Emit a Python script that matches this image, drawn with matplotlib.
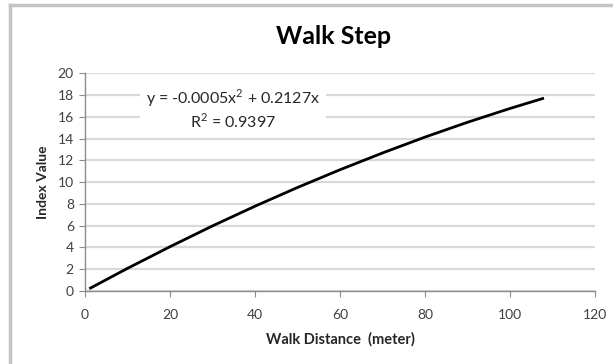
import matplotlib
matplotlib.use("Agg")
import matplotlib.pyplot as plt
from matplotlib.lines import Line2D

# Walk distance (m) and index value along the fitted curve
distance = [1, 10, 20, 30, 40, 50, 60, 70, 80, 90, 100, 108]
index_value = [0.21, 2.08, 4.07, 5.98, 7.79, 9.51, 11.14, 12.68, 14.14, 15.50, 16.77, 17.72]

x_ticks = [0, 20, 40, 60, 80, 100, 120]
y_ticks = [0, 2, 4, 6, 8, 10, 12, 14, 16, 18, 20]

title = "Walk Step"
x_label = "Walk Distance  (meter)"
y_label = "Index Value"
equation = "y = -0.0005x$^{2}$ + 0.2127x"
r_squared = "R$^{2}$ = 0.9397"

plt.rcParams["font.family"] = ["Lato", "DejaVu Sans"]
plt.rcParams["mathtext.fontset"] = "custom"
plt.rcParams["mathtext.rm"] = "Lato"

fig = plt.figure(figsize=(6.13, 3.64), dpi=100)
ax = fig.add_axes([85 / 613, 1 - 291 / 364, (595 - 85) / 613, (291 - 73.3) / 364])

ax.plot(distance, index_value, color="black", lw=2.0, solid_capstyle="butt", zorder=3)

ax.set_xlim(0, 120)
ax.set_ylim(0, 20)
ax.set_xticks(x_ticks)
ax.set_yticks(y_ticks)
ax.grid(axis="y", color="#d9d9d9", lw=1.6)
ax.set_axisbelow(True)

for s in ("top", "right"):
    ax.spines[s].set_visible(False)
for s in ("left", "bottom"):
    ax.spines[s].set_color("#8c8c8c")
    ax.spines[s].set_linewidth(1.0)

ax.tick_params(axis="both", direction="out", length=4, color="#8c8c8c",
               labelsize=10, labelcolor="#404040")
ax.tick_params(axis="x", pad=9)
ax.tick_params(axis="y", pad=4)

ax.set_xlabel(x_label, fontsize=10.5, fontweight="bold", color="#262626", labelpad=8)
ax.set_ylabel(y_label, fontsize=10, fontweight="bold", color="#262626", labelpad=6)

fig.text(333 / 613, 1 - 37 / 364, title, ha="center", va="center",
         fontsize=18, fontweight="bold", color="black")

box_style = dict(boxstyle="square,pad=0.35", fc="white", ec="none")
ax.text(34.8, 16.75, equation + "\n" + r_squared, ha="center", va="center",
        fontsize=11.5, color="#262626", linespacing=1.2, bbox=box_style, zorder=4)

# chart frame
fig.add_artist(Line2D([10 / 613, 10 / 613], [0, 1 - 5 / 364], color="#c4c4c4", lw=2.5))
fig.add_artist(Line2D([10 / 613, 1], [1 - 5 / 364, 1 - 5 / 364], color="#c4c4c4", lw=2.5))

fig.savefig("out.png", dpi=100)
